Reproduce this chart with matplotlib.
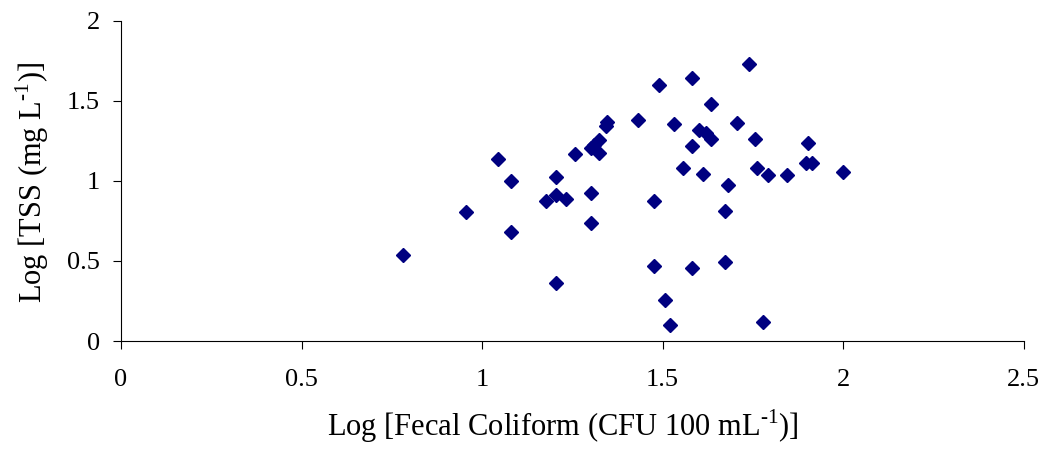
import matplotlib
matplotlib.use("Agg")
import matplotlib.pyplot as plt

# log fecal coliform (x) vs log TSS (y)
log_fc = [0.78, 0.955, 1.043, 1.08, 1.08, 1.176, 1.204, 1.204, 1.205, 1.231,
          1.256, 1.302, 1.302, 1.302, 1.311, 1.325, 1.325, 1.342, 1.345,
          1.431, 1.477, 1.477, 1.491, 1.506, 1.519, 1.531, 1.556, 1.58,
          1.58, 1.58, 1.601, 1.613, 1.62, 1.634, 1.634, 1.672, 1.672,
          1.681, 1.707, 1.74, 1.755, 1.762, 1.778, 1.793, 1.844, 1.896,
          1.902, 1.914, 1.999]
log_tss = [0.537, 0.807, 1.136, 0.997, 0.682, 0.876, 0.911, 0.364, 1.022, 0.886,
           1.165, 0.926, 0.737, 1.203, 1.223, 1.172, 1.255, 1.34, 1.37,
           1.379, 0.876, 0.468, 1.596, 0.256, 0.098, 1.356, 1.082, 1.644,
           1.217, 0.454, 1.317, 1.044, 1.3, 1.477, 1.261, 0.813, 0.495,
           0.972, 1.361, 1.727, 1.263, 1.082, 0.119, 1.038, 1.038, 1.109,
           1.234, 1.109, 1.057]

plt.rcParams['font.family'] = ['Liberation Serif', 'DejaVu Serif']
plt.rcParams['mathtext.fontset'] = 'custom'
plt.rcParams['mathtext.rm'] = 'Liberation Serif'

fig = plt.figure(figsize=(10.51, 4.66), dpi=100)
ax = fig.add_axes([0.1151, 0.2682, 0.8590, 0.6874])

ax.plot(log_fc, log_tss, linestyle='none', marker='D', markersize=7.6,
        color='#000080', markeredgecolor='#000080')

ax.set_xlim(0, 2.5)
ax.set_ylim(0, 2)
ax.set_xticks([0, 0.5, 1, 1.5, 2, 2.5])
ax.set_xticklabels(['0', '0.5', '1', '1.5', '2', '2.5'])
ax.set_yticks([0, 0.5, 1, 1.5, 2])
ax.set_yticklabels(['0', '0.5', '1', '1.5', '2'])

ax.spines['top'].set_visible(False)
ax.spines['right'].set_visible(False)
ax.tick_params(axis='x', direction='out', length=6, width=0.8, labelsize=19, pad=14)
ax.tick_params(axis='y', direction='out', length=6, width=0.8, labelsize=19, pad=9)

fig.text(563 / 1051, 1 - 436 / 466,
         r'Log [Fecal Coliform (CFU 100 mL$^{\text{-1}}$)]',
         ha='center', va='baseline', fontsize=22)
fig.text(32 / 1051, 1 - 182 / 466,
         r'Log [TSS (mg L$^{\text{-1}}$)]',
         ha='center', va='center', rotation=90, fontsize=22)

fig.savefig('out.png', dpi=100)
